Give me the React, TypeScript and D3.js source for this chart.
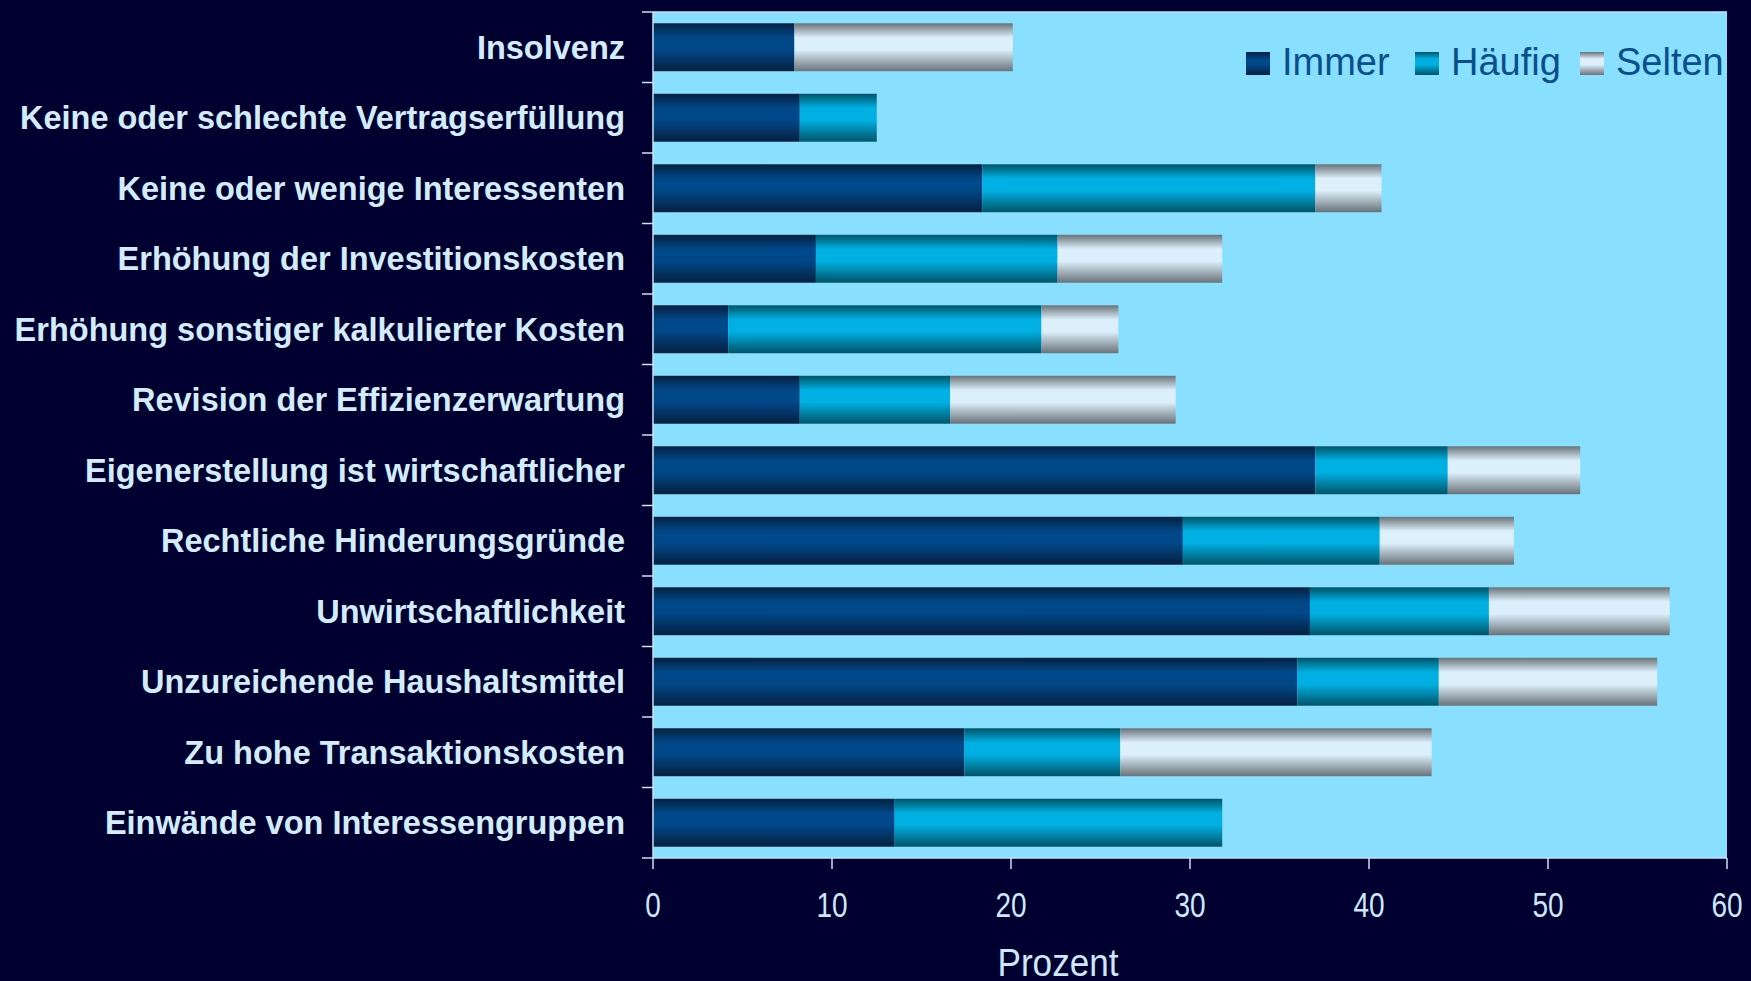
import React, { useEffect, useRef } from 'react';
import * as d3 from 'd3';

// Categories, top to bottom
const categories = [
  'Insolvenz',
  'Keine oder schlechte Vertragserfüllung',
  'Keine oder wenige Interessenten',
  'Erhöhung der Investitionskosten',
  'Erhöhung sonstiger kalkulierter Kosten',
  'Revision der Effizienzerwartung',
  'Eigenerstellung ist wirtschaftlicher',
  'Rechtliche Hinderungsgründe',
  'Unwirtschaftlichkeit',
  'Unzureichende Haushaltsmittel',
  'Zu hohe Transaktionskosten',
  'Einwände von Interessengruppen'
];

const seriesNames = ['Immer', 'Häufig', 'Selten'];

// Values in percent
const immer = [7.9, 8.2, 18.4, 9.1, 4.2, 8.2, 37.0, 29.6, 36.7, 36.0, 17.4, 13.5];
const haeufig = [0, 4.3, 18.6, 13.5, 17.5, 8.4, 7.4, 11.0, 10.0, 7.9, 8.7, 18.3];
const selten = [12.2, 0, 3.7, 9.2, 4.3, 12.6, 7.4, 7.5, 10.1, 12.2, 17.4, 0];

const xTicks = [0, 10, 20, 30, 40, 50, 60];

function App() {
  const chartRef = useRef<SVGSVGElement>(null);

  useEffect(() => {
    const width = 1751;
    const height = 981;
    const margin = { left: 653, right: 24, top: 12, bottom: 123 };

    const svg = d3.select(chartRef.current);
    svg.selectAll('*').remove();

    // gradients for the shaded bars
    const defs = svg.append('defs');
    const gradients = [
      { id: 'g-immer', edge: '#06203f', mid: '#004888' },
      { id: 'g-haeufig', edge: '#005468', mid: '#00b0e2' },
      { id: 'g-selten', edge: '#6a7278', mid: '#dcf0fc' }
    ];
    gradients.forEach(g => {
      const lg = defs.append('linearGradient')
        .attr('id', g.id)
        .attr('x1', 0).attr('y1', 0).attr('x2', 0).attr('y2', 1);
      lg.append('stop').attr('offset', '0%').attr('stop-color', g.edge);
      lg.append('stop').attr('offset', '30%').attr('stop-color', g.mid);
      lg.append('stop').attr('offset', '55%').attr('stop-color', g.mid);
      lg.append('stop').attr('offset', '100%').attr('stop-color', g.edge);
    });

    svg.append('rect')
      .attr('width', width)
      .attr('height', height)
      .attr('fill', '#000030');

    const x = d3.scaleLinear()
      .domain([0, 60])
      .range([margin.left, width - margin.right]);

    const y = d3.scaleBand()
      .domain(categories)
      .range([margin.top, height - margin.bottom])
      .paddingInner(0.32)
      .paddingOuter(0.16);

    // plot area
    svg.append('rect')
      .attr('x', x(0))
      .attr('y', margin.top)
      .attr('width', x(60) - x(0))
      .attr('height', height - margin.bottom - margin.top)
      .attr('fill', '#88e0fe');

    svg.append('line')
      .attr('x1', x(0)).attr('x2', x(60))
      .attr('y1', margin.top).attr('y2', margin.top)
      .attr('stroke', '#bfe3f5').attr('stroke-width', 1.5);

    // stacked bars
    const rows = categories.map((c, i) => ({
      category: c,
      Immer: immer[i],
      'Häufig': haeufig[i],
      Selten: selten[i]
    }));
    const stack = d3.stack<any>().keys(seriesNames);
    const layers = stack(rows);

    svg.selectAll('g.layer')
      .data(layers)
      .enter()
      .append('g')
      .attr('class', 'layer')
      .attr('fill', (d, i) => `url(#${gradients[i].id})`)
      .selectAll('rect')
      .data(d => d.filter(p => p[1] - p[0] > 0))
      .enter()
      .append('rect')
      .attr('x', d => x(d[0]))
      .attr('width', d => x(d[1]) - x(d[0]))
      .attr('y', d => y(d.data.category) as number)
      .attr('height', y.bandwidth());

    const axisColor = '#c4e2f4';

    // y axis line + ticks on band boundaries
    svg.append('line')
      .attr('x1', x(0)).attr('x2', x(0))
      .attr('y1', margin.top).attr('y2', height - margin.bottom)
      .attr('stroke', axisColor).attr('stroke-width', 1.5);

    const step = y.step();
    const bounds = d3.range(categories.length + 1).map(i => margin.top + i * step);
    svg.selectAll('line.ytick')
      .data(bounds)
      .enter()
      .append('line')
      .attr('class', 'ytick')
      .attr('x1', x(0) - 11).attr('x2', x(0))
      .attr('y1', d => d).attr('y2', d => d)
      .attr('stroke', axisColor).attr('stroke-width', 1.5);

    // x axis
    const baseY = height - margin.bottom;
    svg.append('line')
      .attr('x1', x(0)).attr('x2', x(60))
      .attr('y1', baseY).attr('y2', baseY)
      .attr('stroke', axisColor).attr('stroke-width', 1.5);

    svg.selectAll('line.xtick')
      .data(xTicks)
      .enter()
      .append('line')
      .attr('class', 'xtick')
      .attr('x1', d => x(d)).attr('x2', d => x(d))
      .attr('y1', baseY).attr('y2', baseY + 11)
      .attr('stroke', axisColor).attr('stroke-width', 1.5);

    // narrow looking tick labels: squeeze horizontally
    svg.selectAll('text.xlabel')
      .data(xTicks)
      .enter()
      .append('text')
      .attr('class', 'xlabel')
      .attr('transform', d => `translate(${x(d)}, ${baseY + 59}) scale(0.8, 1)`)
      .attr('text-anchor', 'middle')
      .style('font-family', '"Liberation Sans Narrow", "Arial Narrow", "Liberation Sans", sans-serif')
      .style('font-size', '35px')
      .attr('fill', '#cce8fa')
      .text(d => d);

    svg.append('text')
      .attr('transform', 'translate(1058, 976) scale(0.9, 1)')
      .attr('text-anchor', 'middle')
      .style('font-family', '"Liberation Sans", Arial, sans-serif')
      .style('font-size', '39px')
      .attr('fill', '#cce8fa')
      .text('Prozent');

    // category labels
    svg.selectAll('text.ylabel')
      .data(categories)
      .enter()
      .append('text')
      .attr('class', 'ylabel')
      .attr('x', 625)
      .attr('y', d => (y(d) as number) + y.bandwidth() / 2)
      .attr('dy', '0.36em')
      .attr('text-anchor', 'end')
      .style('font-family', '"Liberation Sans", Arial, sans-serif')
      .style('font-weight', 'bold')
      .style('font-size', '32.5px')
      .attr('fill', '#d2ecfb')
      .text(d => d);

    // legend
    const legendPos = [1246, 1415, 1580];
    const legend = svg.selectAll('g.legend')
      .data(seriesNames)
      .enter()
      .append('g')
      .attr('class', 'legend')
      .attr('transform', (d, i) => `translate(${legendPos[i]}, 52)`);

    legend.append('rect')
      .attr('width', 24)
      .attr('height', 23)
      .attr('fill', (d, i) => `url(#${gradients[i].id})`);

    legend.append('text')
      .attr('x', 36)
      .attr('y', 23)
      .style('font-family', '"Liberation Sans", Arial, sans-serif')
      .style('font-size', '38px')
      .attr('fill', '#0a4f8c')
      .text(d => d);
  }, []);

  return (
    <svg
      ref={chartRef}
      width={1751}
      height={981}
      style={{ position: 'absolute', left: 0, top: 0, display: 'block' }}
    />
  );
}

export default App;
